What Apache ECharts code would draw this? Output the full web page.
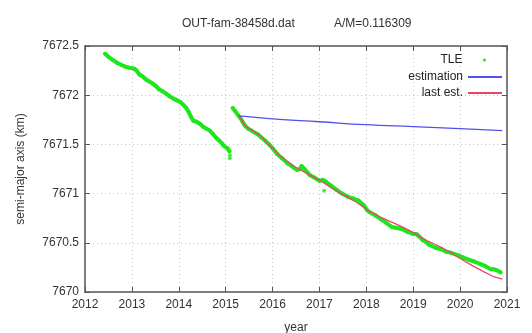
<!DOCTYPE html>
<html>
<head>
<meta charset="utf-8">
<script src="https://cdn.jsdelivr.net/npm/echarts@6/dist/echarts.min.js"></script>
<style>
  html, body { margin: 0; padding: 0; background: #fff; }
  #main { width: 532px; height: 333px; }
</style>
</head>
<body>
<div id="main"></div>
<script>
  // TLE, first arc (before the 2015 jump)
  const tleYears1 = [2012.43, 2012.50, 2012.59, 2012.68, 2012.77, 2012.86, 2012.94, 2013.05, 2013.10, 2013.16,
    2013.23, 2013.30, 2013.37, 2013.44, 2013.52, 2013.58, 2013.65, 2013.72, 2013.80, 2013.87,
    2013.95, 2014.03, 2014.10, 2014.16, 2014.21, 2014.26, 2014.31, 2014.38, 2014.45, 2014.52,
    2014.59, 2014.66, 2014.72, 2014.79, 2014.86, 2014.92, 2014.97, 2015.04, 2015.08]
  const tleValues1 = [7672.42, 7672.39, 7672.36, 7672.33, 7672.31, 7672.29, 7672.28, 7672.27, 7672.25, 7672.21,
    7672.19, 7672.16, 7672.14, 7672.12, 7672.09, 7672.06, 7672.04, 7672.02, 7671.99, 7671.97,
    7671.95, 7671.93, 7671.90, 7671.87, 7671.83, 7671.78, 7671.74, 7671.73, 7671.71, 7671.68,
    7671.66, 7671.64, 7671.61, 7671.57, 7671.54, 7671.51, 7671.48, 7671.46, 7671.43]

  // TLE, second arc
  const tleYears2 = [2015.15, 2015.20, 2015.26, 2015.31, 2015.36, 2015.41, 2015.48, 2015.55, 2015.62, 2015.69,
    2015.76, 2015.84, 2015.93, 2016.00, 2016.10, 2016.20, 2016.31, 2016.41, 2016.52, 2016.58,
    2016.62, 2016.68, 2016.79, 2016.90, 2017.00, 2017.07, 2017.14, 2017.25, 2017.36, 2017.48,
    2017.60, 2017.72, 2017.83, 2017.95, 2018.02, 2018.07, 2018.19, 2018.31, 2018.43, 2018.55,
    2018.65, 2018.76, 2018.88, 2019.00, 2019.07, 2019.20, 2019.34, 2019.48, 2019.62, 2019.70,
    2019.80, 2019.97, 2020.07, 2020.17, 2020.30, 2020.45, 2020.55, 2020.66, 2020.72, 2020.78, 2020.86]
  const tleValues2 = [7671.87, 7671.84, 7671.80, 7671.77, 7671.73, 7671.69, 7671.66, 7671.64, 7671.62, 7671.60,
    7671.57, 7671.54, 7671.50, 7671.46, 7671.40, 7671.36, 7671.31, 7671.28, 7671.24, 7671.25,
    7671.28, 7671.25, 7671.19, 7671.16, 7671.13, 7671.14, 7671.12, 7671.08, 7671.04, 7671.00,
    7670.97, 7670.95, 7670.93, 7670.88, 7670.83, 7670.81, 7670.78, 7670.74, 7670.70, 7670.66,
    7670.65, 7670.64, 7670.61, 7670.59, 7670.59, 7670.53, 7670.48, 7670.45, 7670.43, 7670.41,
    7670.40, 7670.37, 7670.35, 7670.33, 7670.31, 7670.28, 7670.26, 7670.23, 7670.23, 7670.22, 7670.20]

  // isolated TLE points
  const strayYears = [2015.09, 2015.09, 2017.10]
  const strayValues = [7671.39, 7671.36, 7671.03]

  // estimation
  const estYears = [2015.28, 2016.00, 2017.00, 2018.00, 2019.00, 2020.00, 2020.90]
  const estValues = [7671.79, 7671.76, 7671.73, 7671.70, 7671.68, 7671.66, 7671.64]

  // last est.
  const lastYears = [2015.28, 2015.42, 2015.60, 2015.77, 2015.88, 2016.00, 2016.20, 2016.48, 2016.75, 2016.99,
    2017.25, 2017.54, 2017.80, 2018.03, 2018.30, 2018.59, 2018.82, 2019.05, 2019.30, 2019.58,
    2019.80, 2020.00, 2020.25, 2020.49, 2020.70, 2020.90]
  const lastValues = [7671.79, 7671.69, 7671.63, 7671.58, 7671.51, 7671.46, 7671.37, 7671.27, 7671.20, 7671.14,
    7671.06, 7670.98, 7670.91, 7670.83, 7670.76, 7670.70, 7670.65, 7670.59, 7670.52, 7670.46,
    7670.40, 7670.34, 7670.27, 7670.21, 7670.16, 7670.13]

  const zip = (xs, ys) => xs.map((x, i) => [x, ys[i]])

  const green = '#1ee61e'
  const axisColor = '#555'
  const textColor = '#333'
  const font = 'Liberation Sans'

  const frameAxis = {
    type: 'value',
    axisLine: { show: true, onZero: false, lineStyle: { color: axisColor, width: 1.5 } },
    axisTick: { show: true, inside: true, length: 5, lineStyle: { color: axisColor } },
    axisLabel: { show: false },
    splitLine: { show: false }
  }

  let myChart = echarts.init(document.getElementById('main'))
  let option = {
    animation: false,
    backgroundColor: '#fff',
    textStyle: { fontFamily: font },
    title: [
      { text: 'OUT-fam-38458d.dat', left: 177, top: 13, textStyle: { fontSize: 12, fontWeight: 'normal', color: textColor, fontFamily: font } },
      { text: 'A/M=0.116309', left: 329, top: 13, textStyle: { fontSize: 12, fontWeight: 'normal', color: textColor, fontFamily: font } }
    ],
    legend: [
      // the circle icon box comes out narrower, so this one sits further left
      { data: [{ name: 'TLE', icon: 'circle' }], right: 41, top: 49, align: 'right', itemWidth: 34, itemHeight: 3,
        selectedMode: false, textStyle: { fontSize: 12, color: '#222', fontFamily: font } },
      { data: [{ name: 'estimation', icon: 'rect' }], right: 25, top: 66, align: 'right', itemWidth: 34, itemHeight: 2,
        selectedMode: false, textStyle: { fontSize: 12, color: '#222', fontFamily: font } },
      { data: [{ name: 'last est.', icon: 'rect' }], right: 25, top: 82, align: 'right', itemWidth: 34, itemHeight: 2,
        selectedMode: false, textStyle: { fontSize: 12, color: '#222', fontFamily: font } }
    ],
    grid: { left: 85, right: 25, top: 46, bottom: 41, outerBoundsMode: 'none', containLabel: false },
    xAxis: [
      {
        type: 'value', min: 2012, max: 2021, interval: 1, position: 'bottom',
        name: 'year', nameLocation: 'middle', nameGap: 30,
        nameTextStyle: { fontSize: 12, color: textColor, fontFamily: font },
        axisLine: { show: true, onZero: false, lineStyle: { color: axisColor, width: 1.5 } },
        axisTick: { show: true, inside: true, length: 5, lineStyle: { color: axisColor } },
        axisLabel: { fontSize: 12, color: textColor, margin: 7, formatter: v => String(v) },
        splitLine: { show: true, lineStyle: { type: [1, 3], color: '#c8c8c8' } }
      },
      Object.assign({}, frameAxis, { min: 2012, max: 2021, interval: 1, position: 'top' })
    ],
    yAxis: [
      {
        type: 'value', min: 7670, max: 7672.5, interval: 0.5, position: 'left',
        name: 'semi-major axis (km)', nameLocation: 'middle', nameGap: 58,
        nameTextStyle: { fontSize: 12, color: textColor, fontFamily: font },
        axisLine: { show: true, onZero: false, lineStyle: { color: axisColor, width: 1.5 } },
        axisTick: { show: true, inside: true, length: 5, lineStyle: { color: axisColor } },
        axisLabel: { fontSize: 12, color: textColor, margin: 6, formatter: v => String(v) },
        splitLine: { show: true, lineStyle: { type: [1, 3], color: '#c8c8c8' } }
      },
      Object.assign({}, frameAxis, { min: 7670, max: 7672.5, interval: 0.5, position: 'right' })
    ],
    series: [
      {
        name: 'TLE', type: 'line', data: zip(tleYears1, tleValues1),
        color: green, symbol: 'circle', symbolSize: 4, showSymbol: true,
        lineStyle: { width: 4, color: green, cap: 'round', join: 'round' },
        itemStyle: { color: green }, z: 2
      },
      {
        name: 'TLE', type: 'line', data: zip(tleYears2, tleValues2),
        color: green, symbol: 'circle', symbolSize: 4, showSymbol: true,
        lineStyle: { width: 4, color: green, cap: 'round', join: 'round' },
        itemStyle: { color: green }, z: 2
      },
      {
        name: 'TLE', type: 'scatter', data: zip(strayYears, strayValues),
        color: green, symbolSize: 4, itemStyle: { color: green }, z: 2
      },
      {
        name: 'estimation', type: 'line', data: zip(estYears, estValues),
        color: '#5050f0', symbol: 'none', smooth: true,
        lineStyle: { width: 1.3, color: '#5050f0' }, z: 3
      },
      {
        name: 'last est.', type: 'line', data: zip(lastYears, lastValues),
        color: '#ee4466', symbol: 'none',
        lineStyle: { width: 1.3, color: '#ee4466' }, z: 4
      }
    ]
  }
  myChart.setOption(option)
</script>
</body>
</html>
